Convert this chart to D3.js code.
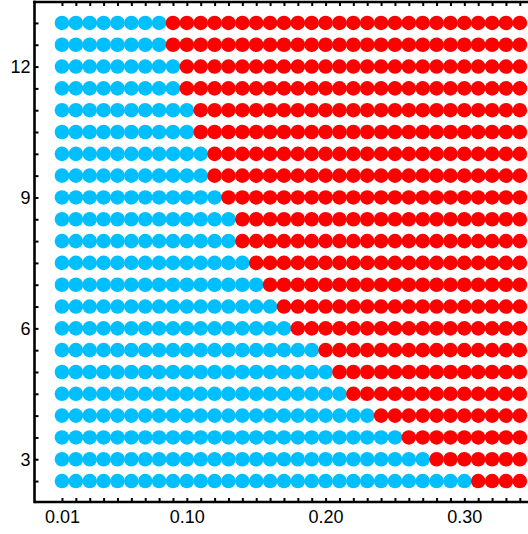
<!DOCTYPE html>
<html>
<head>
<meta charset="utf-8">
<script src="https://cdn.jsdelivr.net/npm/d3@7"></script>
<style>
  body { margin: 0; background: #fff; }
  .axis text { font-family: "Liberation Sans", Arial, sans-serif; font-size: 18px; fill: #000; }
  .axis path, .axis line { stroke: #000; }
</style>
</head>
<body>
<div id="chart"></div>
<script>
// Data
var xValues = [0.01, 0.02, 0.03, 0.04, 0.05, 0.06, 0.07, 0.08, 0.09, 0.10,
  0.11, 0.12, 0.13, 0.14, 0.15, 0.16, 0.17, 0.18, 0.19, 0.20,
  0.21, 0.22, 0.23, 0.24, 0.25, 0.26, 0.27, 0.28, 0.29, 0.30,
  0.31, 0.32, 0.33, 0.34];
var rowValues = [13, 12.5, 12, 11.5, 11, 10.5, 10, 9.5, 9, 8.5, 8,
  7.5, 7, 6.5, 6, 5.5, 5, 4.5, 4, 3.5, 3, 2.5];
// last x value that is still blue in each row
var lastBlue = [0.08, 0.08, 0.09, 0.09, 0.10, 0.10, 0.11, 0.11, 0.12, 0.13, 0.13,
  0.14, 0.15, 0.16, 0.17, 0.19, 0.20, 0.21, 0.23, 0.25, 0.27, 0.30];
var xTickLabels = [0.01, 0.10, 0.20, 0.30];
var yTickLabels = [3, 6, 9, 12];

var svgWidth = 528;
var svgHeight = 534;

var svg = d3
  .select("#chart")
  .append("svg")
  .attr("width", svgWidth)
  .attr("height", svgHeight);

var xScale = d3.scaleLinear().domain([-0.0098, 0.35]).range([34.5, 533.7]);
var yScale = d3.scaleLinear().domain([2.02, 13.48]).range([502, 2]);

// points: one per cell
var points = [];
rowValues.forEach(function(y, i) {
  xValues.forEach(function(x) {
    points.push({ x: x, y: y, blue: x <= lastBlue[i] + 1e-9 });
  });
});

svg
  .append("g")
  .selectAll("circle")
  .data(points)
  .enter()
  .append("circle")
  .attr("cx", d => xScale(d.x))
  .attr("cy", d => yScale(d.y))
  .attr("r", 7.3)
  .attr("fill", d => (d.blue ? "#00bfff" : "#ff0000"));

function fmtX(d) {
  return xTickLabels.some(v => Math.abs(v - d) < 1e-9) ? d.toFixed(2) : "";
}
function fmtY(d) {
  return yTickLabels.indexOf(d) >= 0 ? d : "";
}

// bottom axis
var bottomAxis = d3
  .axisBottom(xScale)
  .tickValues(xValues)
  .tickSizeInner(-4)
  .tickSizeOuter(0)
  .tickPadding(8)
  .tickFormat(fmtX);

var xAxis = svg
  .append("g")
  .attr("class", "axis")
  .attr("transform", "translate(0,502)")
  .call(bottomAxis);

// top axis (ticks only)
var topAxis = d3
  .axisTop(xScale)
  .tickValues(xValues)
  .tickSizeInner(-4)
  .tickSizeOuter(0)
  .tickFormat("");

var xAxisTop = svg
  .append("g")
  .attr("class", "axis")
  .attr("transform", "translate(0,2)")
  .call(topAxis);

// left axis
var leftAxis = d3
  .axisLeft(yScale)
  .tickValues(rowValues)
  .tickSizeInner(-4)
  .tickSizeOuter(0)
  .tickPadding(4)
  .tickFormat(fmtY);

var yAxis = svg
  .append("g")
  .attr("class", "axis")
  .attr("transform", "translate(34.5,0)")
  .call(leftAxis);

svg.selectAll(".axis path").attr("stroke-width", 2.6);
svg.selectAll(".axis line").attr("stroke-width", 2);
// spines meet at the corners
xAxis.select("path").attr("d", "M34.5,0H528");
xAxisTop.select("path").attr("d", "M33.2,0H528");
yAxis.select("path").attr("d", "M0,0.7V503.3");
</script>
</body>
</html>
